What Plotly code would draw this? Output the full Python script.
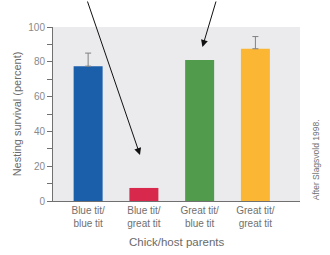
import plotly.graph_objects as go

categories = ["Blue tit/<br>blue tit", "Blue tit/<br>great tit", "Great tit/<br>blue tit", "Great tit/<br>great tit"]
survival = [77.5, 7.5, 81.0, 87.5]
err_cats = [categories[0], categories[3]]
err_base = [survival[0], survival[3]]
err_up = [7.5, 7.0]
colors = ["#1b5fab", "#d8284c", "#519c4c", "#fbb733"]
y_ticks = [0, 20, 40, 60, 80, 100]

fig = go.Figure()
fig.add_trace(go.Bar(
    x=categories, y=survival, width=0.52,
    marker=dict(color=colors, line=dict(width=0)),
))
fig.add_trace(go.Scatter(
    x=err_cats, y=err_base, mode="markers", marker=dict(size=1, opacity=0),
    error_y=dict(type="data", symmetric=False, array=err_up,
                 arrayminus=[0, 0], color="#808080", thickness=1, width=3),
    hoverinfo="skip",
))

fig.update_layout(
    width=330, height=255,
    margin=dict(l=53, r=30, t=27, b=54),
    paper_bgcolor="white", plot_bgcolor="#ebebee",
    font=dict(family="Liberation Sans, Arial, sans-serif", size=10, color="#7a7a7a"),
    showlegend=False,
    xaxis=dict(range=[-0.63, 3.8], showline=True, linecolor="#707070", linewidth=1,
               ticks="", showgrid=False, tickfont=dict(size=10, color="#707070"),
               automargin=False),
    yaxis=dict(range=[0, 100], tickvals=y_ticks, showline=True, linecolor="#707070", linewidth=1,
               ticks="outside", ticklen=5, tickcolor="#707070", showgrid=False, zeroline=False,
               minor=dict(ticks="outside", dtick=10, ticklen=5, tickcolor="#707070"),
               tickfont=dict(size=10, color="#8a8a8a"),
               title=dict(text="Nesting survival (percent)", font=dict(size=11, color="#6a6a6a"), standoff=4)),
)

fig.add_annotation(x=0.5, y=-0.236, xref="paper", yref="paper", yanchor="middle",
                   text="Chick/host parents", showarrow=False,
                   font=dict(size=11.5, color="#6a6a6a"))
fig.add_annotation(x=0.93, y=26.5, xref="x", yref="y", ax=-53, ay=-155,
                   showarrow=True, arrowhead=2, arrowsize=1.4, arrowwidth=1, arrowcolor="#111", text="")
fig.add_annotation(x=2.05, y=88.5, xref="x", yref="y", ax=14, ay=-47,
                   showarrow=True, arrowhead=2, arrowsize=1.4, arrowwidth=1, arrowcolor="#111", text="")
fig.add_annotation(x=1.0, y=-0.01, xref="paper", yref="paper", xshift=16, textangle=-90,
                   yanchor="bottom", xanchor="center",
                   text="After Slagsvold 1998.", showarrow=False,
                   font=dict(size=8.5, color="#707070"))

fig.write_html("out.html")
